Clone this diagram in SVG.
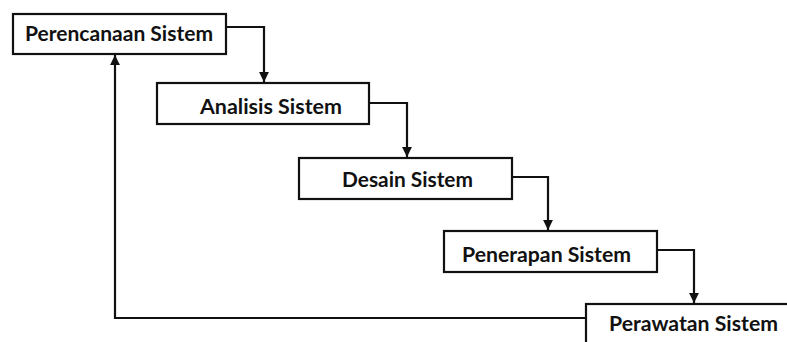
<svg xmlns="http://www.w3.org/2000/svg" width="787" height="342" viewBox="0 0 787 342">
  <style>
    .box { fill: #ffffff; stroke: #111111; stroke-width: 2.2; }
    .label { font-family: Lato, "Open Sans", "Liberation Sans", sans-serif; font-weight: bold; font-size: 21px; fill: #111111; }
    .wire { fill: none; stroke: #111111; stroke-width: 2.2; }
  </style>
  <defs>
    <marker id="arrow" viewBox="0 0 10 10" refX="10" refY="5" markerWidth="4.5" markerHeight="5" markerUnits="strokeWidth" orient="auto">
      <path d="M0,0 L10,5 L0,10 Z" fill="#111111"/>
    </marker>
  </defs>
  <rect width="787" height="342" fill="#ffffff"/>

  <g id="connectors">
    <path class="wire" d="M226,27 H264 V82" marker-end="url(#arrow)"/>
    <path class="wire" d="M369,103 H407 V157" marker-end="url(#arrow)"/>
    <path class="wire" d="M512,177 H548 V230" marker-end="url(#arrow)"/>
    <path class="wire" d="M657,250 H694 V303" marker-end="url(#arrow)"/>
    <path class="wire" d="M586,318 H115 V55" marker-end="url(#arrow)"/>
  </g>

  <g id="perencanaan">
    <rect class="box" x="13" y="14" width="213" height="40"/>
    <text class="label" x="25" y="41" textLength="188" lengthAdjust="spacingAndGlyphs">Perencanaan Sistem</text>
  </g>
  <g id="analisis">
    <rect class="box" x="157" y="83" width="212" height="41"/>
    <text class="label" x="200" y="114" textLength="142" lengthAdjust="spacingAndGlyphs">Analisis Sistem</text>
  </g>
  <g id="desain">
    <rect class="box" x="299" y="158" width="213" height="41"/>
    <text class="label" x="342" y="187" textLength="131" lengthAdjust="spacingAndGlyphs">Desain Sistem</text>
  </g>
  <g id="penerapan">
    <rect class="box" x="444" y="231" width="213" height="41"/>
    <text class="label" x="462" y="262" textLength="169" lengthAdjust="spacingAndGlyphs">Penerapan Sistem</text>
  </g>
  <g id="perawatan">
    <rect class="box" x="586" y="304" width="230" height="60"/>
    <text class="label" x="609" y="331" textLength="169" lengthAdjust="spacingAndGlyphs">Perawatan Sistem</text>
  </g>
</svg>
